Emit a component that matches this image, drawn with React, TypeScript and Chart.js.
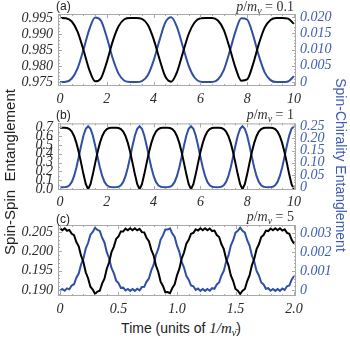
import React, { useEffect, useRef } from "react";
import { Chart, registerables } from "chart.js";

Chart.register(...registerables);

// ---------------- data ----------------
// Panel (a): p/m = 0.1, time 0..10 sampled every 0.25
const STEP_A = 0.25;
const spinSpinA = [
  0.9950, 0.9949, 0.9939, 0.9907, 0.9850, 0.9788, 0.9752, 0.9762, 0.9813, 0.9877,
  0.9924, 0.9946, 0.9950, 0.9950, 0.9947, 0.9929, 0.9884, 0.9822, 0.9767, 0.9751,
  0.9781, 0.9841, 0.9900, 0.9936, 0.9949, 0.9950, 0.9950, 0.9942, 0.9913, 0.9857,
  0.9795, 0.9754, 0.9758, 0.9805, 0.9869, 0.9920, 0.9944, 0.9950, 0.9950, 0.9948,
  0.9932,
];
const spinChiralA = [
  0.0000, 0.0001, 0.0011, 0.0043, 0.0100, 0.0162, 0.0198, 0.0188, 0.0137, 0.0073,
  0.0026, 0.0004, 0.0000, 0.0000, 0.0003, 0.0021, 0.0066, 0.0128, 0.0183, 0.0199,
  0.0169, 0.0109, 0.0050, 0.0014, 0.0001, 0.0000, 0.0000, 0.0008, 0.0037, 0.0093,
  0.0155, 0.0196, 0.0192, 0.0145, 0.0081, 0.0030, 0.0006, 0.0000, 0.0000, 0.0002,
  0.0018,
];

// Panel (b): p/m = 1, time 0..10 sampled every 0.1
const STEP_B = 0.1;
const spinSpinB = [
  0.6929, 0.6931, 0.6929, 0.6900, 0.6782, 0.6498, 0.5981, 0.5198, 0.4160, 0.2939, 0.1670, 0.0566, 0,
  0.0566, 0.1670, 0.2939, 0.4160, 0.5198, 0.5981, 0.6498, 0.6782, 0.6900, 0.6929, 0.6931,
  0.6929, 0.6900, 0.6782, 0.6498, 0.5981, 0.5198, 0.4160, 0.2939, 0.1670, 0.0566, 0,
  0.0566, 0.1670, 0.2939, 0.4160, 0.5198, 0.5981, 0.6498, 0.6782, 0.6900, 0.6929, 0.6931,
  0.6929, 0.6900, 0.6782, 0.6498, 0.5981, 0.5198, 0.4160, 0.2939, 0.1670, 0.0566, 0,
  0.0566, 0.1670, 0.2939, 0.4160, 0.5198, 0.5981, 0.6498, 0.6782, 0.6900, 0.6929, 0.6931,
  0.6929, 0.6900, 0.6782, 0.6498, 0.5981, 0.5198, 0.4160, 0.2939, 0.1670, 0.0566, 0,
  0.0566, 0.1670, 0.2939, 0.4160, 0.5198, 0.5981, 0.6498, 0.6782, 0.6900, 0.6929, 0.6931,
  0.6929, 0.6900, 0.6782, 0.6498, 0.5981, 0.5198, 0.4160, 0.2939, 0.1670, 0.0566, 0,
];
const spinChiralB = [
  0.0001, 0, 0.0001, 0.0016, 0.0075, 0.0214, 0.0460, 0.0816, 0.1252, 0.1712, 0.2119, 0.2400, 0.25,
  0.2400, 0.2119, 0.1712, 0.1252, 0.0816, 0.0460, 0.0214, 0.0075, 0.0016, 0.0001, 0,
  0.0001, 0.0016, 0.0075, 0.0214, 0.0460, 0.0816, 0.1252, 0.1712, 0.2119, 0.2400, 0.25,
  0.2400, 0.2119, 0.1712, 0.1252, 0.0816, 0.0460, 0.0214, 0.0075, 0.0016, 0.0001, 0,
  0.0001, 0.0016, 0.0075, 0.0214, 0.0460, 0.0816, 0.1252, 0.1712, 0.2119, 0.2400, 0.25,
  0.2400, 0.2119, 0.1712, 0.1252, 0.0816, 0.0460, 0.0214, 0.0075, 0.0016, 0.0001, 0,
  0.0001, 0.0016, 0.0075, 0.0214, 0.0460, 0.0816, 0.1252, 0.1712, 0.2119, 0.2400, 0.25,
  0.2400, 0.2119, 0.1712, 0.1252, 0.0816, 0.0460, 0.0214, 0.0075, 0.0016, 0.0001, 0,
  0.0001, 0.0016, 0.0075, 0.0214, 0.0460, 0.0816, 0.1252, 0.1712, 0.2119, 0.2400, 0.25,
];

// Panel (c): p/m = 5, time 0..2 sampled every 0.02
const STEP_C = 0.02;
const spinSpinC = [
  0.20595, 0.20545, 0.20592, 0.20531, 0.20554, 0.20451, 0.20415, 0.20241, 0.20130, 0.19887,
  0.19725, 0.19459, 0.19305, 0.19084, 0.19011, 0.18900, 0.18958, 0.18981, 0.19164, 0.19294,
  0.19551, 0.19718, 0.19978, 0.20116, 0.20320, 0.20386, 0.20514, 0.20511, 0.20585, 0.20543,
  0.20595, 0.20545, 0.20595, 0.20541, 0.20578, 0.20496, 0.20487, 0.20344, 0.20262, 0.20044,
  0.19897, 0.19631, 0.19466, 0.19217, 0.19104, 0.18944, 0.18946, 0.18917, 0.19052, 0.19147,
  0.19381, 0.19545, 0.19812, 0.19968, 0.20199, 0.20296, 0.20454, 0.20476, 0.20568, 0.20537,
  0.20594, 0.20545, 0.20595, 0.20544, 0.20589, 0.20523, 0.20537, 0.20421, 0.20370, 0.20181,
  0.20056, 0.19804, 0.19638, 0.19375, 0.19233, 0.19028, 0.18980, 0.18895, 0.18980, 0.19028,
  0.19233, 0.19375, 0.19638, 0.19804, 0.20056, 0.20181, 0.20370, 0.20421, 0.20537, 0.20523,
  0.20589, 0.20544, 0.20595, 0.20545, 0.20594, 0.20537, 0.20568, 0.20476, 0.20454, 0.20296,
  0.20199,
];
const spinChiralC = [
  -0.00005, 0.00005, -0.00004, 0.00008, 0.00003, 0.00023, 0.00030, 0.00064, 0.00086, 0.00134,
  0.00165, 0.00218, 0.00247, 0.00291, 0.00305, 0.00327, 0.00316, 0.00311, 0.00275, 0.00250,
  0.00199, 0.00167, 0.00116, 0.00089, 0.00049, 0.00036, 0.00011, 0.00012, -0.00003, 0.00005,
  -0.00005, 0.00005, -0.00005, 0.00006, -0.00002, 0.00015, 0.00016, 0.00044, 0.00060, 0.00103,
  0.00132, 0.00184, 0.00216, 0.00265, 0.00287, 0.00318, 0.00318, 0.00324, 0.00297, 0.00279,
  0.00233, 0.00201, 0.00148, 0.00118, 0.00073, 0.00054, 0.00023, 0.00019, 0.00000, 0.00007,
  -0.00005, 0.00005, -0.00005, 0.00005, -0.00004, 0.00009, 0.00006, 0.00029, 0.00039, 0.00076,
  0.00100, 0.00150, 0.00182, 0.00234, 0.00262, 0.00302, 0.00311, 0.00328, 0.00311, 0.00302,
  0.00262, 0.00234, 0.00182, 0.00150, 0.00100, 0.00076, 0.00039, 0.00029, 0.00006, 0.00009,
  -0.00004, 0.00005, -0.00005, 0.00005, -0.00005, 0.00007, 0.00000, 0.00019, 0.00023, 0.00054,
  0.00073,
];

// tick values
const xTicksAB = [0, 2, 4, 6, 8, 10];
const xTicksC = [0, 0.5, 1.0, 1.5, 2.0];
const yTicksA = [0.975, 0.98, 0.985, 0.99, 0.995];
const y1TicksA = [0, 0.005, 0.01, 0.015, 0.02];
const yTicksB = [0, 0.1, 0.2, 0.3, 0.4, 0.5, 0.6, 0.7];
const y1TicksB = [0, 0.05, 0.1, 0.15, 0.2, 0.25];
const yTicksC = [0.19, 0.195, 0.2, 0.205];
const y1TicksC = [0, 0.001, 0.002, 0.003];

// ---------------- styles ----------------
const LINE_BLACK = "#000000";
const LINE_BLUE = "#2f4fa4";
const LABEL_BLUE = "#3f5db2";
const LABEL_DARK = "#2a2a2a";
const FRAME = "#a9a9a9";
const SERIF = "'Liberation Serif', 'Times New Roman', serif";
const SANS = "'Liberation Sans', Arial, sans-serif";
const LEFT_W = 58;
const RIGHT_W = 54;

function range(min: number, max: number, step: number) {
  const out: number[] = [];
  const n = Math.round((max - min) / step);
  for (let i = 0; i <= n; i++) out.push(min + i * step);
  return out;
}

const framePlugin = {
  id: "mmaFrame",
  afterDatasetsDraw(chart: any) {
    const o = chart.options.plugins.mmaFrame;
    const { ctx, chartArea: a, scales } = chart;
    ctx.save();
    ctx.strokeStyle = FRAME;
    ctx.lineWidth = 1;
    ctx.strokeRect(a.left + 0.5, a.top + 0.5, a.right - a.left - 1, a.bottom - a.top - 1);
    ctx.beginPath();
    const xt = (vals: number[], len: number) => {
      vals.forEach((v) => {
        const p = Math.round(scales.x.getPixelForValue(v)) + 0.5;
        if (p < a.left || p > a.right) return;
        ctx.moveTo(p, a.bottom);
        ctx.lineTo(p, a.bottom - len);
        ctx.moveTo(p, a.top);
        ctx.lineTo(p, a.top + len);
      });
    };
    const yt = (scale: any, vals: number[], len: number, left: boolean) => {
      vals.forEach((v) => {
        const p = Math.round(scale.getPixelForValue(v)) + 0.5;
        if (p < a.top || p > a.bottom) return;
        if (left) {
          ctx.moveTo(a.left, p);
          ctx.lineTo(a.left + len, p);
        } else {
          ctx.moveTo(a.right, p);
          ctx.lineTo(a.right - len, p);
        }
      });
    };
    xt(o.xMajor, 4);
    xt(o.xMinor, 2);
    yt(scales.y, o.yMajor, 4, true);
    yt(scales.y, o.yMinor, 2, true);
    yt(scales.y1, o.y1Major, 4, false);
    yt(scales.y1, o.y1Minor, 2, false);
    ctx.stroke();
    ctx.restore();
  },
};

type PanelProps = {
  top: number;
  height: number;
  padTop: number;
  xAxisH: number;
  xPad: number;
  step: number;
  black: number[];
  blue: number[];
  xMin: number;
  xMax: number;
  xTicks: number[];
  xMinor: number;
  yMin: number;
  yMax: number;
  yTicks: number[];
  yMinor: number;
  y1Min: number;
  y1Max: number;
  y1Ticks: number[];
  y1Minor: number;
  xFmt: (v: number) => string;
  yFmt: (v: number) => string;
  y1Fmt: (v: number) => string;
  smooth: boolean;
};

function Panel(p: PanelProps) {
  const ref = useRef<HTMLCanvasElement | null>(null);
  useEffect(() => {
    if (!ref.current) return;
    const xs = p.black.map((_, i) => i * p.step);
    const tickFont = { family: SERIF, size: 14, style: "italic" as const };
    const noGrid = { display: false, drawTicks: false, tickLength: 0 };
    const chart = new Chart(ref.current, {
      type: "line",
      data: {
        datasets: [
          {
            data: xs.map((x, i) => ({ x, y: p.black[i] })),
            yAxisID: "y",
            borderColor: LINE_BLACK,
            borderWidth: 2,
            pointRadius: 0,
            tension: 0,
            cubicInterpolationMode: p.smooth ? "monotone" : "default",
          },
          {
            data: xs.map((x, i) => ({ x, y: p.blue[i] })),
            yAxisID: "y1",
            borderColor: LINE_BLUE,
            borderWidth: 2,
            pointRadius: 0,
            tension: 0,
            cubicInterpolationMode: p.smooth ? "monotone" : "default",
          },
        ],
      },
      options: {
        responsive: false,
        animation: false,
        devicePixelRatio: 1,
        layout: { padding: { top: p.padTop, left: 0, right: 0, bottom: 0 } },
        plugins: {
          legend: { display: false },
          tooltip: { enabled: false },
          mmaFrame: {
            xMajor: p.xTicks,
            xMinor: range(p.xTicks[0], p.xTicks[p.xTicks.length - 1], p.xMinor),
            yMajor: p.yTicks,
            yMinor: range(p.yTicks[0] - 5 * p.yMinor, p.yTicks[p.yTicks.length - 1] + 5 * p.yMinor, p.yMinor),
            y1Major: p.y1Ticks,
            y1Minor: range(p.y1Ticks[0] - 5 * p.y1Minor, p.y1Ticks[p.y1Ticks.length - 1] + 5 * p.y1Minor, p.y1Minor),
          },
        } as any,
        scales: {
          x: {
            type: "linear",
            min: p.xMin,
            max: p.xMax,
            grid: noGrid,
            border: { display: false },
            ticks: {
              font: tickFont,
              color: LABEL_DARK,
              padding: p.xPad,
              autoSkip: false,
              maxRotation: 0,
              minRotation: 0,
              callback: (v: any) => p.xFmt(Number(v)),
            },
            afterBuildTicks: (s: any) => {
              s.ticks = p.xTicks.map((v) => ({ value: v }));
            },
            afterFit: (s: any) => {
              s.height = p.xAxisH;
            },
          },
          y: {
            type: "linear",
            position: "left",
            min: p.yMin,
            max: p.yMax,
            grid: noGrid,
            border: { display: false },
            ticks: {
              font: tickFont,
              color: LABEL_DARK,
              padding: 5,
              autoSkip: false,
              callback: (v: any) => p.yFmt(Number(v)),
            },
            afterBuildTicks: (s: any) => {
              s.ticks = p.yTicks.map((v) => ({ value: v }));
            },
            afterFit: (s: any) => {
              s.width = LEFT_W;
            },
          },
          y1: {
            type: "linear",
            position: "right",
            min: p.y1Min,
            max: p.y1Max,
            grid: noGrid,
            border: { display: false },
            ticks: {
              font: tickFont,
              color: LABEL_BLUE,
              padding: 4,
              autoSkip: false,
              callback: (v: any) => p.y1Fmt(Number(v)),
            },
            afterBuildTicks: (s: any) => {
              s.ticks = p.y1Ticks.map((v) => ({ value: v }));
            },
            afterFit: (s: any) => {
              s.width = RIGHT_W;
            },
          },
        },
      },
      plugins: [framePlugin],
    } as any);
    return () => chart.destroy();
  }, []);
  return (
    <canvas
      ref={ref}
      width={350}
      height={p.height}
      style={{ position: "absolute", left: 0, top: p.top, width: 350, height: p.height }}
    />
  );
}

const fmtInt = (v: number) => String(Math.round(v));
const fmt1 = (v: number) => v.toFixed(1);
const fmt0or = (d: number) => (v: number) => (Math.abs(v) < 1e-12 ? "0" : v.toFixed(d));

function Sub({ children }: { children: React.ReactNode }) {
  return (
    <span style={{ fontSize: 10, position: "relative", top: 3, lineHeight: 0 }}>{children}</span>
  );
}

function PLabel({ top, value }: { top: number; value: string }) {
  return (
    <div
      style={{
        position: "absolute",
        right: 56,
        top,
        fontFamily: SERIF,
        fontSize: 14,
        lineHeight: "14px",
        color: "#333",
        whiteSpace: "pre",
      }}
    >
      <i>p</i>/<i>m</i>
      <Sub>
        <i>ν</i>
      </Sub>
      {" = " + value}
    </div>
  );
}

function Tag({ top, text }: { top: number; text: string }) {
  return (
    <div
      style={{
        position: "absolute",
        left: 56,
        top,
        fontFamily: SANS,
        fontSize: 12,
        lineHeight: "12px",
        color: "#222",
      }}
    >
      {text}
    </div>
  );
}

export default function App() {
  return (
    <div
      style={{
        position: "absolute",
        left: 0,
        top: 0,
        width: 350,
        height: 338,
        background: "#ffffff",
        overflow: "hidden",
      }}
    >
      <Panel
        top={0}
        height={110}
        padTop={14}
        xAxisH={24}
        xPad={5}
        step={STEP_A}
        black={spinSpinA}
        blue={spinChiralA}
        xMin={-0.09}
        xMax={10.09}
        xTicks={xTicksAB}
        xMinor={0.5}
        yMin={0.97375}
        yMax={0.99625}
        yTicks={yTicksA}
        yMinor={0.001}
        y1Min={-0.0012}
        y1Max={0.0209}
        y1Ticks={y1TicksA}
        y1Minor={0.001}
        xFmt={fmtInt}
        yFmt={(v) => v.toFixed(3)}
        y1Fmt={fmt0or(3)}
        smooth={true}
      />
      <Panel
        top={110}
        height={100}
        padTop={10}
        xAxisH={20}
        xPad={4}
        step={STEP_B}
        black={spinSpinB}
        blue={spinChiralB}
        xMin={-0.09}
        xMax={10.09}
        xTicks={xTicksAB}
        xMinor={0.5}
        yMin={-0.01}
        yMax={0.743}
        yTicks={yTicksB}
        yMinor={0.05}
        y1Min={-0.0117}
        y1Max={0.2617}
        y1Ticks={y1TicksB}
        y1Minor={0.01}
        xFmt={fmtInt}
        yFmt={fmt1}
        y1Fmt={fmt0or(2)}
        smooth={false}
      />
      <Panel
        top={210}
        height={105}
        padTop={15}
        xAxisH={19}
        xPad={5}
        step={STEP_C}
        black={spinSpinC}
        blue={spinChiralC}
        xMin={-0.017}
        xMax={2.017}
        xTicks={xTicksC}
        xMinor={0.1}
        yMin={0.18845}
        yMax={0.2068}
        yTicks={yTicksC}
        yMinor={0.001}
        y1Min={-0.00032}
        y1Max={0.00342}
        y1Ticks={y1TicksC}
        y1Minor={0.0002}
        xFmt={fmt0or(1)}
        yFmt={(v) => v.toFixed(3)}
        y1Fmt={fmt0or(3)}
        smooth={false}
      />

      <Tag top={0} text="(a)" />
      <Tag top={109} text="(b)" />
      <Tag top={213} text="(c)" />
      <PLabel top={0} value="0.1" />
      <PLabel top={108} value="1" />
      <PLabel top={210} value="5" />

      <div
        style={{
          position: "absolute",
          left: 10 - 110,
          top: 172 - 9,
          width: 220,
          height: 18,
          lineHeight: "18px",
          textAlign: "center",
          fontFamily: SANS,
          fontSize: 15,
          color: "#222",
          whiteSpace: "pre",
          transform: "rotate(-90deg)",
          transformOrigin: "50% 50%",
        }}
      >
        {"Spin-Spin  Entanglement"}
      </div>
      <div
        style={{
          position: "absolute",
          left: 341 - 110,
          top: 165 - 9,
          width: 220,
          height: 18,
          lineHeight: "18px",
          textAlign: "center",
          fontFamily: SANS,
          fontSize: 14,
          color: LABEL_BLUE,
          whiteSpace: "pre",
          transform: "rotate(90deg)",
          transformOrigin: "50% 50%",
        }}
      >
        {"Spin-Chirality Entanglement"}
      </div>
      <div
        style={{
          position: "absolute",
          left: 0,
          width: 362,
          top: 320,
          height: 16,
          lineHeight: "16px",
          textAlign: "center",
          fontFamily: SANS,
          fontSize: 14,
          color: "#222",
          whiteSpace: "pre",
        }}
      >
        {"Time (units of "}
        <span style={{ fontFamily: SERIF, fontStyle: "italic", fontSize: 15 }}>1/m</span>
        <Sub>
          <span style={{ fontFamily: SERIF, fontStyle: "italic" }}>{"ν\u0304"}</span>
        </Sub>
        {")"}
      </div>
    </div>
  );
}
